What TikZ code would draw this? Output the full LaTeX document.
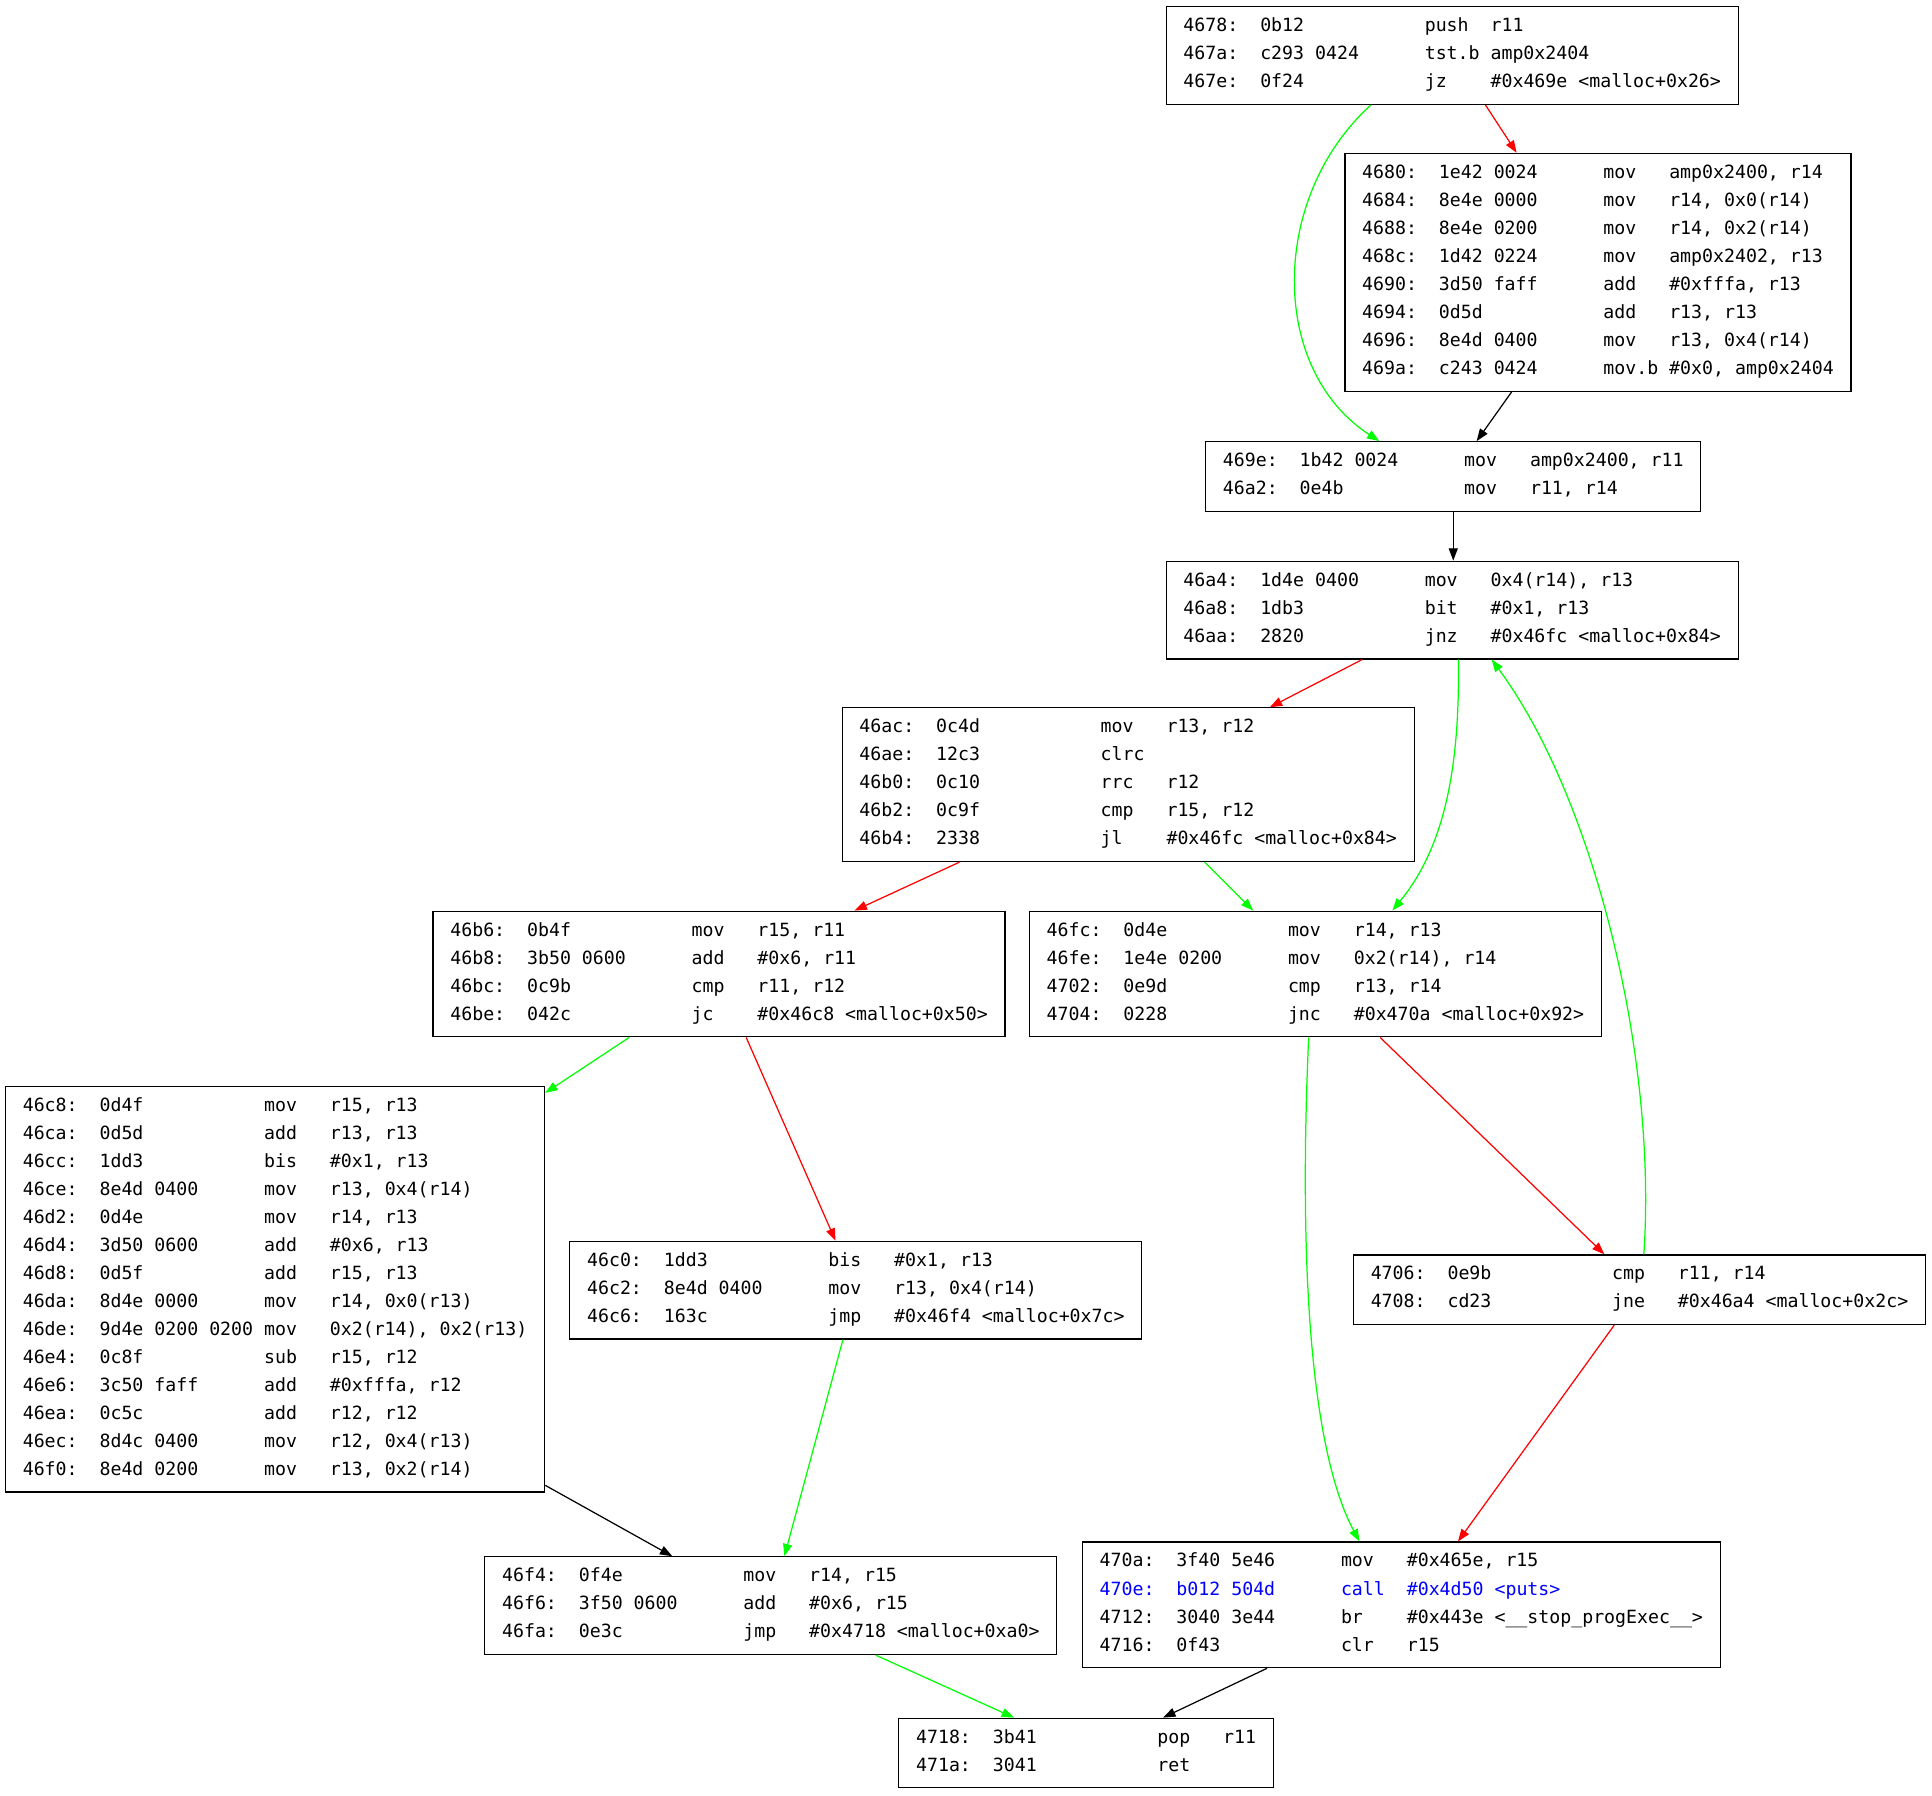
\documentclass[tikz,border=0pt]{standalone}
\usepackage{fontspec}
\setmonofont{DejaVu Sans Mono}
\usetikzlibrary{arrows.meta,calc}
\definecolor{gvgreen}{RGB}{0,255,0}
\definecolor{gvred}{RGB}{255,0,0}
\definecolor{gvblue}{RGB}{0,0,255}
\newlength\cw
\setlength\cw{6.6766pt}
\newcommand\blkfont{\ttfamily\fontsize{11.09pt}{17.06pt}\selectfont}
\newcommand\asmline[4]{\hbox{\rule[-6pt]{0pt}{17.06pt}\makebox[7\cw][l]{#1}\makebox[15\cw][l]{#2}\makebox[6\cw][l]{#3}#4}}
\newcommand\asmblock[1]{\vbox{\offinterlineskip #1}}
\begin{document}
\begin{tikzpicture}[x=0.75pt,y=-0.75pt,
  box/.style={draw=black,line width=0.75pt,inner xsep=10.5pt,inner ysep=4.125pt,anchor=north west,font=\blkfont},
  conn/.style={line width=0.75pt,-{Triangle[length=7.5pt,width=5.5pt]}},
  tk/.style={conn,draw=black},
  tg/.style={conn,draw=gvgreen},
  tr/.style={conn,draw=gvred}]
\fill[white] (0,0) rectangle (1568,1457);
\useasboundingbox (0,0) rectangle (1568,1457);

\node[box] (A) at (946,5) {\asmblock{%
\asmline{4678:}{0b12}{push}{r11}
\asmline{467a:}{c293 0424}{tst.b}{amp0x2404}
\asmline{467e:}{0f24}{jz}{\#0x469e <malloc+0x26>}}};

\node[box] (B) at (1091,124) {\asmblock{%
\asmline{4680:}{1e42 0024}{mov}{amp0x2400, r14}
\asmline{4684:}{8e4e 0000}{mov}{r14, 0x0(r14)}
\asmline{4688:}{8e4e 0200}{mov}{r14, 0x2(r14)}
\asmline{468c:}{1d42 0224}{mov}{amp0x2402, r13}
\asmline{4690:}{3d50 faff}{add}{\#0xfffa, r13}
\asmline{4694:}{0d5d}{add}{r13, r13}
\asmline{4696:}{8e4d 0400}{mov}{r13, 0x4(r14)}
\asmline{469a:}{c243 0424}{mov.b}{\#0x0, amp0x2404}}};

\node[box] (C) at (978,358) {\asmblock{%
\asmline{469e:}{1b42 0024}{mov}{amp0x2400, r11}
\asmline{46a2:}{0e4b}{mov}{r11, r14}}};

\node[box] (D) at (946,455) {\asmblock{%
\asmline{46a4:}{1d4e 0400}{mov}{0x4(r14), r13}
\asmline{46a8:}{1db3}{bit}{\#0x1, r13}
\asmline{46aa:}{2820}{jnz}{\#0x46fc <malloc+0x84>}}};

\node[box] (E) at (683,574) {\asmblock{%
\asmline{46ac:}{0c4d}{mov}{r13, r12}
\asmline{46ae:}{12c3}{clrc}{}
\asmline{46b0:}{0c10}{rrc}{r12}
\asmline{46b2:}{0c9f}{cmp}{r15, r12}
\asmline{46b4:}{2338}{jl}{\#0x46fc <malloc+0x84>}}};

\node[box] (F) at (351,739) {\asmblock{%
\asmline{46b6:}{0b4f}{mov}{r15, r11}
\asmline{46b8:}{3b50 0600}{add}{\#0x6, r11}
\asmline{46bc:}{0c9b}{cmp}{r11, r12}
\asmline{46be:}{042c}{jc}{\#0x46c8 <malloc+0x50>}}};

\node[box] (G) at (835,739) {\asmblock{%
\asmline{46fc:}{0d4e}{mov}{r14, r13}
\asmline{46fe:}{1e4e 0200}{mov}{0x2(r14), r14}
\asmline{4702:}{0e9d}{cmp}{r13, r14}
\asmline{4704:}{0228}{jnc}{\#0x470a <malloc+0x92>}}};

\node[box] (H) at (4,881) {\asmblock{%
\asmline{46c8:}{0d4f}{mov}{r15, r13}
\asmline{46ca:}{0d5d}{add}{r13, r13}
\asmline{46cc:}{1dd3}{bis}{\#0x1, r13}
\asmline{46ce:}{8e4d 0400}{mov}{r13, 0x4(r14)}
\asmline{46d2:}{0d4e}{mov}{r14, r13}
\asmline{46d4:}{3d50 0600}{add}{\#0x6, r13}
\asmline{46d8:}{0d5f}{add}{r15, r13}
\asmline{46da:}{8d4e 0000}{mov}{r14, 0x0(r13)}
\asmline{46de:}{9d4e 0200 0200}{mov}{0x2(r14), 0x2(r13)}
\asmline{46e4:}{0c8f}{sub}{r15, r12}
\asmline{46e6:}{3c50 faff}{add}{\#0xfffa, r12}
\asmline{46ea:}{0c5c}{add}{r12, r12}
\asmline{46ec:}{8d4c 0400}{mov}{r12, 0x4(r13)}
\asmline{46f0:}{8e4d 0200}{mov}{r13, 0x2(r14)}}};

\node[box] (I) at (462,1007) {\asmblock{%
\asmline{46c0:}{1dd3}{bis}{\#0x1, r13}
\asmline{46c2:}{8e4d 0400}{mov}{r13, 0x4(r14)}
\asmline{46c6:}{163c}{jmp}{\#0x46f4 <malloc+0x7c>}}};

\node[box] (J) at (1098,1018) {\asmblock{%
\asmline{4706:}{0e9b}{cmp}{r11, r14}
\asmline{4708:}{cd23}{jne}{\#0x46a4 <malloc+0x2c>}}};

\node[box] (K) at (393,1263) {\asmblock{%
\asmline{46f4:}{0f4e}{mov}{r14, r15}
\asmline{46f6:}{3f50 0600}{add}{\#0x6, r15}
\asmline{46fa:}{0e3c}{jmp}{\#0x4718 <malloc+0xa0>}}};

\node[box] (L) at (878,1251) {\asmblock{%
\asmline{470a:}{3f40 5e46}{mov}{\#0x465e, r15}
\asmline{\color{gvblue}470e:}{\color{gvblue}b012 504d}{\color{gvblue}call}{\color{gvblue}\#0x4d50 <puts>}
\asmline{4712:}{3040 3e44}{br}{\#0x443e <\_\_stop\_progExec\_\_>}
\asmline{4716:}{0f43}{clr}{r15}}};

\node[box] (M) at (729,1394) {\asmblock{%
\asmline{4718:}{3b41}{pop}{r11}
\asmline{471a:}{3041}{ret}{}}};

% edges
\draw[tg] ($(A.south)+(-66,0)$) .. controls (1030,160) and (1030,300) .. ($(C.north)+(-60,0)$);
\draw[tr] ($(A.south)+(27,0)$) -- ($(B.north)+(-66,0)$);
\draw[tk] ($(B.south)+(-70,0)$) -- ($(C.north)+(19,0)$);
\draw[tk] (C.south) -- (C.south |- D.north);
\draw[tr] ($(D.south)+(-73,0)$) -- ($(E.north)+(115,0)$);
\draw[tg] ($(D.south)+(5,0)$) .. controls (1185,630) and (1170,690) .. ($(G.north)+(62.5,0)$);
\draw[tr] ($(E.south)+(-137,0)$) -- ($(F.north)+(110,0)$);
\draw[tg] ($(E.south)+(62,0)$) -- ($(G.north)+(-50.5,0)$);
\draw[tg] ($(F.south)+(-73,0)$) -- ($(H.north east)+(0,6)$);
\draw[tr] ($(F.south)+(22,0)$) -- ($(I.north)+(-16.5,0)$);
\draw[tg] ($(G.south)+(-5.5,0)$) .. controls (1055,1000) and (1060,1170) .. ($(L.north)+(-34,0)$);
\draw[tr] ($(G.south)+(52.5,0)$) -- ($(J.north)+(-28.5,0)$);
\draw[tg] ($(J.north)+(3.5,0)$) .. controls (1345,860) and (1295,650) .. ($(D.south)+(32,0)$);
\draw[tr] ($(J.south)+(-20.5,0)$) -- ($(L.north)+(46,0)$);
\draw[tk] ($(H.south east)+(0,-6)$) -- ($(K.north)+(-80,0)$);
\draw[tg] ($(I.south)+(-10.5,0)$) -- ($(K.north)+(11,0)$);
\draw[tg] ($(K.south)+(85,0)$) -- ($(M.north)+(-58.5,0)$);
\draw[tk] ($(L.south)+(-109,0)$) -- ($(M.north)+(62.5,0)$);
\end{tikzpicture}
\end{document}
